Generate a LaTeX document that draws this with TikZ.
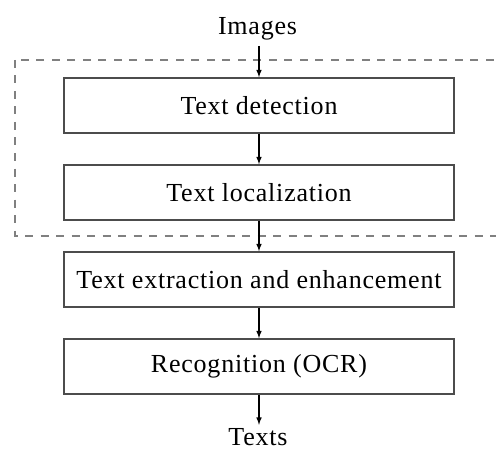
\documentclass[tikz,border=0pt]{standalone}
\usepackage{fontspec}
\setmainfont[LetterSpace=3]{Liberation Serif}
\usetikzlibrary{arrows}

\begin{document}
\begin{tikzpicture}[x=1pt,y=-1pt]
			\tikzstyle{every node}+=[font=\fontsize{26}{30}\selectfont]
			\tikzstyle{stage}=[draw=black!70, line width=1.6pt, minimum width=390pt, minimum height=55pt, inner sep=0pt]
			\tikzstyle{flow}=[black, line width=1.5pt, -latex]
			\useasboundingbox (0,0) rectangle (496,452);
			% dashed frame round the first two stages
			\draw [black!50, line width=1.4pt, dash pattern=on 8pt off 7.5pt] (15,60) rectangle (520,236);
			\node [anchor=base, inner sep=5pt] (img) at (257.5,35) {Images};
			\node [stage] (det) at (259,105.5) {Text detection};
			\node [stage] (loc) at (259,192.5) {Text localization};
			\node [stage] (ext) at (259,279.5) {Text extraction and enhancement};
			\node [stage] (ocr) at (259,366.5) {Recognition (OCR)};
			\node [anchor=base, inner sep=3pt] (txt) at (258,445) {Texts};
			\draw [flow] (img.south -| det.north) -- (det.north);
			\draw [flow] (det) -- (loc);
			\draw [flow] (loc) -- (ext);
			\draw [flow] (ext) -- (ocr);
			\draw [flow] (ocr) -- (txt.north -| ocr.south);
\end{tikzpicture}
\end{document}
